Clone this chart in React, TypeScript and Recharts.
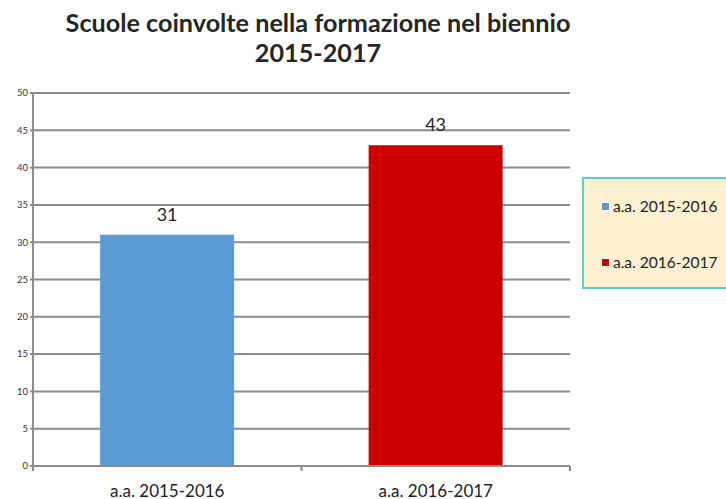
import { BarChart, Bar, XAxis, YAxis, CartesianGrid, Cell, LabelList } from "recharts";

const categories = ["a.a. 2015-2016", "a.a. 2016-2017"];
const schools = [31, 43];
const yTicks = [0, 5, 10, 15, 20, 25, 30, 35, 40, 45, 50];
const COLORS = ["#5b9bd5", "#cc0000"];
const FONT = "Lato, 'Open Sans', sans-serif";

const data = categories.map((name, i) => ({ name, value: schools[i] }));

function XTick(props: any) {
  const { x, y, payload, index } = props;
  const half = 268.5 / 2;
  return (
    <g>
      <line x1={x + half} x2={x + half} y1={y - 8} y2={y - 3} stroke="#8c8c8c" strokeWidth={2} />
      {index === 0 && (
        <line x1={x - half} x2={x - half} y1={y - 8} y2={y - 3} stroke="#8c8c8c" strokeWidth={2} />
      )}
      <text x={x} y={y + 23} textAnchor="middle" fontSize={17} fill="#222" fontFamily={FONT}>
        {payload.value}
      </text>
    </g>
  );
}

export default function App() {
  return (
    <div style={{ position: "absolute", left: 0, top: 0, width: 726, height: 499, background: "#fff", fontFamily: FONT }}>
      <div
        style={{
          position: "absolute",
          left: 0,
          width: 636,
          top: 7,
          textAlign: "center",
          fontWeight: 700,
          fontSize: 25.2,
          lineHeight: "30px",
          color: "#262626",
        }}
      >
        Scuole coinvolte nella formazione nel biennio
        <br />
        2015-2017
      </div>
      <BarChart
        width={726}
        height={499}
        data={data}
        margin={{ top: 93, right: 156, bottom: 3, left: 0 }}
        barCategoryGap="25%"
      >
        <CartesianGrid vertical={false} stroke="#8c8c8c" strokeWidth={2} />
        <YAxis
          width={33}
          domain={[0, 50]}
          ticks={yTicks}
          interval={0}
          stroke="#8c8c8c"
          strokeWidth={2}
          tickSize={3}
          tick={{ fontSize: 9.5, fill: "#333", fontFamily: FONT }}
        />
        <XAxis
          dataKey="name"
          height={30}
          stroke="#8c8c8c"
          strokeWidth={2}
          tickLine={false}
          tick={<XTick />}
        />
        <Bar dataKey="value" isAnimationActive={false}>
          {data.map((_, i) => (
            <Cell key={i} fill={COLORS[i]} />
          ))}
          <LabelList dataKey="value" position="top" offset={14} fontSize={18} fill="#262626" fontFamily={FONT} />
        </Bar>
      </BarChart>
      <div
        style={{
          position: "absolute",
          left: 582,
          top: 177,
          width: 150,
          height: 112,
          background: "#fdf0d0",
          border: "2px solid #5bcfd0",
          boxSizing: "border-box",
          fontSize: 15.5,
          color: "#222",
        }}
      >
        {categories.map((c, i) => (
          <div
            key={c}
            style={{ position: "absolute", left: 17, top: i === 0 ? 18 : 74, display: "flex", alignItems: "center", whiteSpace: "nowrap" }}
          >
            <span style={{ display: "inline-block", width: 7, height: 7, background: COLORS[i], border: "1px solid #fff", marginRight: 3 }} />
            {c}
          </div>
        ))}
      </div>
    </div>
  );
}
